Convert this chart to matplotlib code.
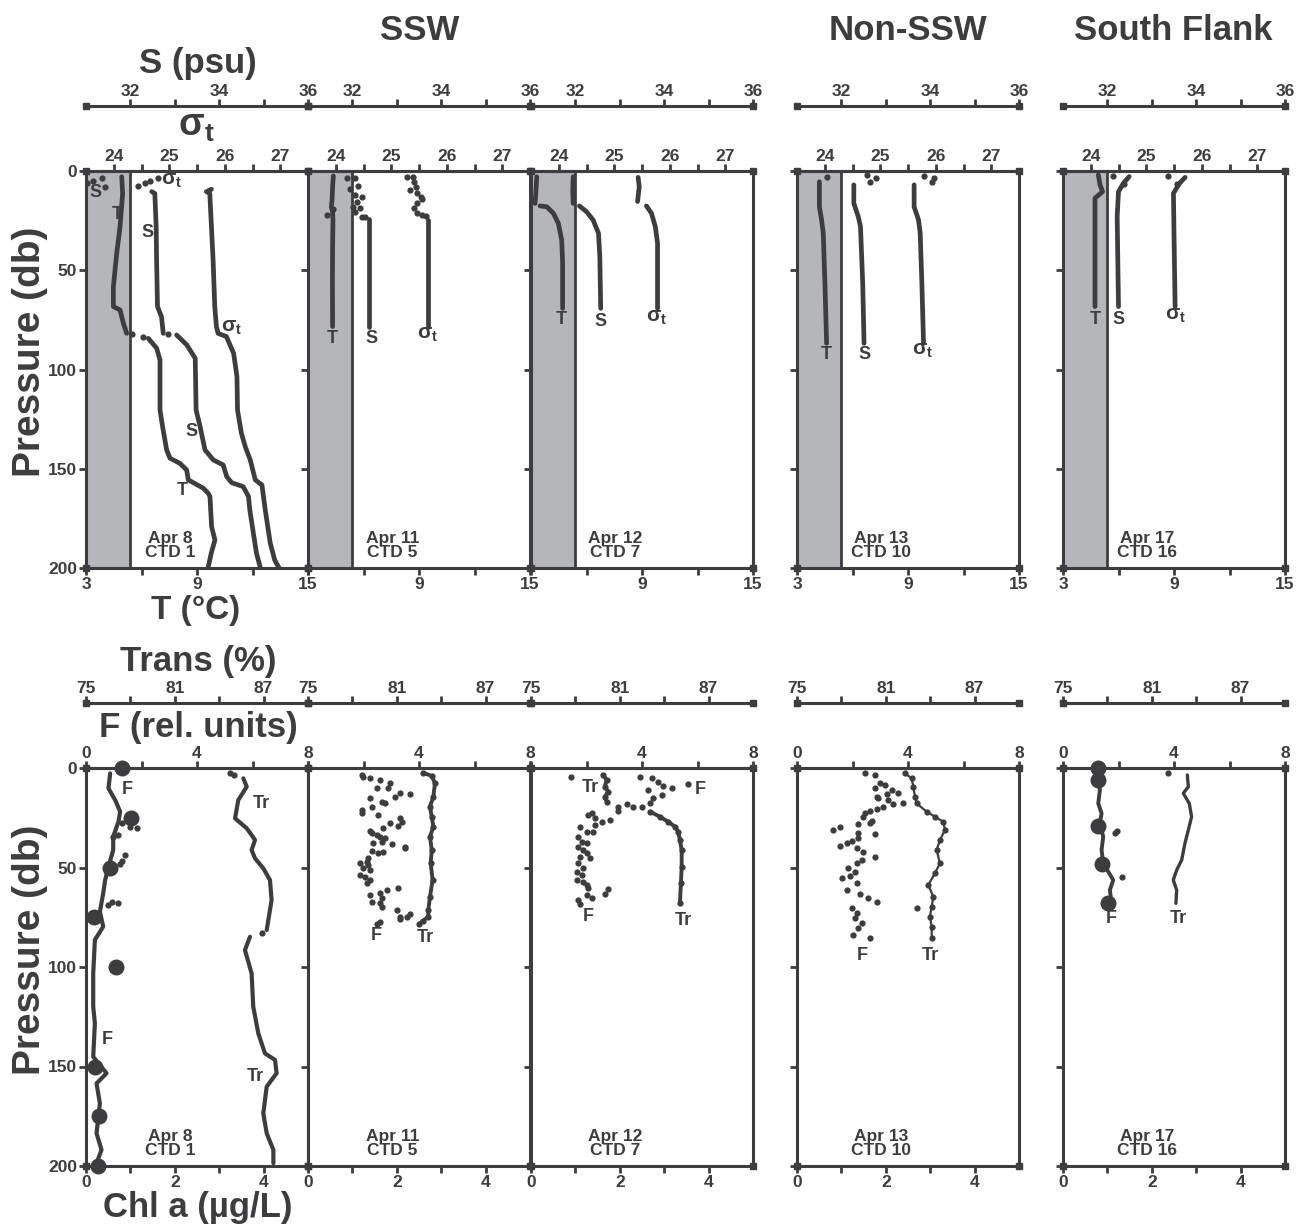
import matplotlib
matplotlib.use("Agg")
import matplotlib.pyplot as plt
from matplotlib.patches import Rectangle
from matplotlib.transforms import offset_copy

plt.rcParams['font.family'] = ['Liberation Sans', 'DejaVu Sans']
plt.rcParams['font.weight'] = 'bold'
plt.rcParams['mathtext.fontset'] = 'custom'
plt.rcParams['mathtext.rm'] = 'Liberation Sans'
plt.rcParams['mathtext.it'] = 'Liberation Sans'

DARK = '#3d3d3f'
SHADE = '#b5b6b9'

# ---------------- labels / ticks ----------------
group_titles = ['SSW', 'Non-SSW', 'South Flank']
panel_dates = ['Apr 8\nCTD 1', 'Apr 11\nCTD 5', 'Apr 12\nCTD 7', 'Apr 13\nCTD 10', 'Apr 17\nCTD 16']
depth_ticks = [0, 50, 100, 150, 200]
T_ticks = [3, 9, 15]
T_minor = [6, 12]
S_ticks = [32, 34, 36]
S_minor = [33, 35]
sig_ticks = [24, 25, 26, 27]
sig_minor = [24.5, 25.5, 26.5]
F_ticks = [0, 4, 8]
F_minor = [2, 6]
Tr_ticks = [75, 81, 87]
Tr_minor = [78, 84]
Chl_ticks = [0, 2, 4]
Chl_minor = [1, 3]

# ---------------- top row data (T degC, S psu, sigma-t vs pressure db) ----------------
# Panel 1: Apr 8, CTD 1
p1_T_depth = [2.9, 11.3, 28.0, 41.5, 58.3, 68.3, 70.0, 76.7, 81.8]
p1_T_value = [4.93, 4.98, 4.84, 4.66, 4.48, 4.48, 4.84, 5.02, 5.20]
p1_Tdot_depth = [82.1, 83.4]
p1_Tdot_value = [5.47, 6.10]
p1_T2_depth = [84.3, 89.3, 95.2, 120.4, 128.8, 140.5, 144.7, 147.3, 150.6, 155.6, 157.0, 159.8, 162.4, 164.0, 179.2, 185.9, 191.8, 199.3]
p1_T2_value = [6.37, 6.82, 7.00, 7.00, 7.14, 7.36, 7.54, 8.08, 8.44, 8.53, 8.80, 9.34, 9.61, 9.70, 9.79, 9.97, 9.79, 9.61]
p1_Sdot_depth = [6.2, 4.9, 3.7, 7.9, 82.1]
p1_Sdot_value = [31.02, 31.15, 31.35, 31.43, 32.85]
p1_S_depth = [10.4, 11.3, 28.0, 44.8, 68.3, 73.4, 81.8]
p1_S_value = [32.48, 32.55, 32.58, 32.59, 32.61, 32.70, 32.74]
p1_S2_depth = [82.6, 87.6, 94.4, 120.4, 128.8, 140.5, 145.6, 148.1, 154.0, 157.0, 159.0, 164.0, 170.8, 182.5, 192.6, 199.3]
p1_S2_value = [33.04, 33.27, 33.46, 33.48, 33.57, 33.68, 33.87, 34.09, 34.17, 34.28, 34.54, 34.66, 34.69, 34.77, 34.84, 34.92]
p1_Gdot_depth = [7.6, 6.2, 4.9, 3.7]
p1_Gdot_value = [24.44, 24.56, 24.65, 24.79]
p1_G_depth = [9.2, 10.4, 11.3, 28.0, 44.8, 68.3, 78.4, 81.8, 83.4, 91.9, 103.6, 120.4, 132.1, 138.9, 145.6, 155.6, 158.2, 170.8, 187.5, 196.0, 200.0]
p1_G_value = [25.76, 25.67, 25.73, 25.76, 25.79, 25.82, 25.85, 25.88, 26.03, 26.16, 26.22, 26.23, 26.30, 26.37, 26.46, 26.55, 26.67, 26.73, 26.82, 26.90, 26.98]

# Panel 2: Apr 11, CTD 5
p2_T_depth = [2.5, 7.9, 14.6, 18.0, 20.5, 24.7, 38.1, 54.9, 78.4]
p2_T_value = [4.37, 4.33, 4.30, 4.26, 4.33, 4.35, 4.33, 4.32, 4.33]
p2_Tdot_depth = [22.2, 19.0]
p2_Tdot_value = [4.01, 4.35]
p2_Sdot_depth = [3.4, 3.7, 7.5, 9.2, 12.1, 13.3, 15.4, 18.0, 18.8, 20.5, 23.0, 23.0]
p2_Sdot_value = [31.87, 32.06, 32.13, 31.95, 32.06, 32.21, 32.10, 32.02, 32.16, 32.06, 32.21, 32.28]
p2_S_depth = [24.3, 40.0, 60.0, 78.4]
p2_S_value = [32.38, 32.38, 32.38, 32.38]
p2_Gdot_depth = [3.2, 2.8, 5.4, 7.9, 9.6, 10.9, 12.9, 14.3, 16.0, 18.8, 21.0, 22.2, 22.7]
p2_Gdot_value = [25.28, 25.39, 25.41, 25.45, 25.34, 25.46, 25.53, 25.55, 25.46, 25.41, 25.46, 25.55, 25.63]
p2_G_depth = [24.7, 50.0, 78.4]
p2_G_value = [25.67, 25.67, 25.67]

# Panel 3: Apr 12, CTD 7
p3_T_depth = [2.9, 9.6, 16.3]
p3_T_value = [3.31, 3.27, 3.22]
p3_T2_depth = [17.6, 18.0, 21.3, 26.4, 34.8, 46.5, 69.2]
p3_T2_value = [3.49, 3.85, 4.21, 4.48, 4.66, 4.71, 4.71]
p3_S_depth = [2.9, 9.6, 16.3]
p3_S_value = [31.95, 31.94, 31.95]
p3_S2_depth = [17.6, 20.5, 24.7, 31.4, 43.1, 69.2]
p3_S2_value = [32.09, 32.25, 32.40, 32.52, 32.55, 32.57]
p3_G_depth = [3.2, 7.9, 15.4]
p3_G_value = [25.43, 25.45, 25.42]
p3_G2_depth = [17.6, 21.3, 28.0, 36.4, 69.2]
p3_G2_value = [25.58, 25.67, 25.74, 25.78, 25.78]

# Panel 4: Apr 13, CTD 10
p4_Tdot_depth = [3.2]
p4_Tdot_value = [4.60]
p4_T_depth = [5.4, 18.0, 24.7, 31.4, 56.6, 86.8]
p4_T_value = [4.21, 4.21, 4.33, 4.42, 4.51, 4.60]
p4_Sdot_depth = [2.0, 5.4, 3.3]
p4_Sdot_value = [32.57, 32.64, 32.78]
p4_S_depth = [7.0, 16.3, 23.0, 28.0, 56.6, 86.8]
p4_S_value = [32.28, 32.28, 32.38, 32.43, 32.48, 32.51]
p4_Gdot_depth = [2.3, 5.4, 3.7]
p4_Gdot_value = [25.79, 25.93, 25.97]
p4_G_depth = [7.0, 18.0, 24.7, 31.4, 56.6, 86.8]
p4_G_value = [25.61, 25.61, 25.69, 25.72, 25.75, 25.78]

# Panel 5: Apr 17, CTD 16
p5_T_depth = [2.0, 7.0, 10.4, 13.7, 31.4, 68.3]
p5_T_value = [4.91, 5.00, 5.14, 4.73, 4.73, 4.73]
p5_Sdot_depth = [2.3, 6.5]
p5_Sdot_value = [32.12, 32.38]
p5_S_depth = [2.8, 6.2, 10.4, 23.0, 68.3]
p5_S_value = [32.49, 32.36, 32.25, 32.22, 32.25]
p5_Gdot_depth = [2.3, 6.5]
p5_Gdot_value = [25.39, 25.55]
p5_G_depth = [3.2, 6.2, 11.2, 31.4, 68.3]
p5_G_value = [25.70, 25.60, 25.49, 25.50, 25.52]

# ---------------- bottom row data (F rel. units, Trans %, Chl a ug/L vs pressure db) ----------------
b1_F_depth = [2.7, 10.2, 16.1, 21.9, 27.0, 34.5, 41.2, 49.6, 56.3, 63.0, 72.2, 79.7, 86.4, 103.2, 119.9, 128.3, 145.1, 153.4, 158.5, 168.5, 183.6, 191.9, 198.6]
b1_F_value = [0.87, 0.81, 1.05, 1.23, 1.17, 0.98, 0.98, 0.81, 0.69, 0.62, 0.50, 0.62, 0.32, 0.26, 0.26, 0.32, 0.26, 0.74, 0.38, 0.50, 0.38, 0.56, 0.38]
b1_Fdot_depth = [30.3, 29.8, 27.8, 33.7, 34.8, 43.7, 46.6, 48.2, 67.2, 67.7, 68.8]
b1_Fdot_value = [1.83, 1.59, 1.29, 1.17, 0.98, 1.41, 1.29, 1.23, 0.93, 1.17, 0.81]
b1_Tr_depth = [5.2, 9.4, 16.1, 25.3, 30.3, 33.7, 36.2, 41.2, 45.4, 50.4, 56.3, 66.3, 76.4, 81.4]
b1_Tr_value = [85.63, 85.86, 85.29, 85.07, 85.86, 86.19, 86.42, 86.19, 86.42, 86.98, 87.43, 87.54, 87.32, 87.21]
b1_Tr2_depth = [84.8, 91.5, 103.2, 119.9, 133.3, 143.4, 146.7, 153.4, 160.1, 173.5, 183.6, 191.9, 198.6]
b1_Tr2_value = [86.08, 85.74, 86.19, 86.30, 86.64, 87.09, 87.77, 87.88, 87.21, 86.98, 87.21, 87.66, 87.66]
b1_Trdot_depth = [2.7, 3.5, 82.7]
b1_Trdot_value = [84.73, 85.00, 86.87]
b1_Chl_depth = [0, 25, 50, 75, 100, 150, 175, 200]
b1_Chl_value = [0.80, 1.01, 0.53, 0.17, 0.68, 0.20, 0.30, 0.26]

b2_F_depth = [3.5, 4.3, 5.2, 6.0, 7.7, 10.2, 10.2, 12.7, 13.1, 14.4, 15.2, 16.9, 17.8, 19.4, 21.1, 22.4, 23.6, 25.3, 27.0, 27.8,
              29.1, 30.3, 31.5, 32.5, 33.7, 34.8, 35.3, 37.5, 37.0, 38.2, 39.5, 40.4, 41.5, 42.0, 42.9, 45.4, 47.1, 47.6, 48.7, 50.4,
              51.3, 53.8, 54.6, 56.3, 58.0, 61.3, 60.5, 63.0, 63.8, 65.5, 68.0, 67.2, 69.7, 71.4, 73.4, 74.7, 75.0, 76.0, 77.2, 78.4]
b2_F_value = [1.93, 1.99, 2.23, 2.59, 2.95, 2.47, 2.89, 3.31, 3.67, 3.13, 2.23, 2.65, 2.77, 2.29, 1.93, 1.93, 2.53, 3.31, 3.37, 2.95,
              3.25, 2.71, 2.23, 2.29, 2.47, 2.59, 2.77, 2.35, 2.65, 3.01, 3.49, 3.49, 2.29, 2.71, 2.53, 2.17, 2.11, 1.87, 2.17, 1.99,
              2.23, 1.87, 2.05, 2.23, 2.11, 2.83, 3.25, 2.59, 2.23, 2.65, 2.59, 2.29, 2.65, 3.19, 3.67, 3.31, 3.55, 3.31, 2.59, 2.47]
b2_Tr_depth = [2.4, 4.0, 7.7, 14.4, 19.4, 24.5, 29.5, 34.5, 41.2, 47.9, 56.3, 64.7, 71.4, 74.7, 76.7, 78.4]
b2_Tr_value = [82.79, 83.36, 83.58, 83.47, 83.24, 83.36, 83.47, 83.24, 83.36, 83.29, 83.42, 83.24, 83.13, 83.13, 82.79, 82.52]

b3_F_depth = [8.2, 10.2, 9.0, 6.9, 5.2, 4.3, 11.0, 13.6, 15.2, 17.4, 19.4, 19.4, 18.1, 19.4, 21.4, 26.1, 27.0, 25.3, 22.8, 23.6,
              28.6, 32.0, 32.0, 29.5, 34.5, 37.0, 37.8, 39.5, 41.2, 45.4, 42.9, 44.6, 47.9, 50.4, 52.1, 53.8, 56.3, 57.1, 58.8, 60.5,
              61.0, 63.3, 63.8, 65.5, 66.3, 68.3, 4.3]
b3_F_value = [5.67, 5.07, 4.77, 4.59, 4.35, 3.93, 4.23, 4.71, 4.41, 4.29, 3.99, 3.69, 3.45, 3.15, 3.15, 2.85, 2.55, 2.31, 2.19, 2.07,
              2.31, 2.25, 2.01, 1.77, 1.71, 1.83, 2.01, 1.71, 1.89, 2.13, 2.01, 1.77, 1.71, 1.89, 1.65, 1.83, 1.65, 1.89, 2.01, 2.07,
              2.79, 2.67, 2.01, 2.19, 1.71, 1.77, 1.43]
b3_Tr_depth = [3.5, 6.0, 9.4, 11.9, 14.4, 16.9]
b3_Tr_value = [79.88, 80.11, 79.99, 80.22, 79.99, 80.11]
b3_Tr2_depth = [21.9, 24.5, 27.0, 29.5, 32.0, 36.2, 41.2, 49.6, 58.0, 68.0]
b3_Tr2_value = [83.04, 83.71, 84.27, 84.73, 84.95, 85.06, 85.18, 85.18, 85.13, 85.06]

b4_F_depth = [2.7, 3.5, 7.7, 8.5, 10.2, 11.0, 13.1, 12.7, 14.4, 15.2, 16.1, 18.3, 17.4, 19.4, 20.4, 21.4, 22.4, 24.5, 26.5, 27.5,
              28.1, 29.5, 31.1, 32.5, 33.2, 35.3, 36.5, 37.5, 39.2, 40.4, 42.0, 44.6, 46.2, 47.9, 50.4, 52.1, 55.4, 54.3, 58.0, 61.3,
              63.5, 65.5, 67.2, 70.5, 73.0, 75.5, 78.1, 80.6, 83.9, 85.6]
b4_F_value = [2.45, 2.81, 2.99, 3.17, 2.81, 3.41, 3.23, 3.65, 2.87, 2.93, 3.29, 3.47, 3.83, 3.11, 2.87, 2.63, 2.45, 2.39, 2.69, 2.63,
              2.21, 1.55, 1.31, 2.21, 2.81, 2.21, 1.97, 1.79, 1.55, 2.15, 2.39, 2.81, 2.33, 2.15, 1.85, 2.09, 1.61, 1.91, 2.15, 1.79,
              2.27, 2.57, 2.87, 1.97, 2.15, 2.09, 2.33, 2.21, 2.03, 2.63]
b4_Tr_depth = [2.7, 5.2, 9.4, 14.4, 17.8, 21.9, 24.5, 27.0, 31.1, 36.2, 41.2, 47.9, 52.9, 58.8, 64.7, 69.7, 74.7, 79.7, 85.6]
b4_Tr_value = [82.30, 82.75, 82.86, 82.97, 83.08, 83.76, 84.32, 84.88, 85.00, 84.66, 84.43, 84.66, 84.32, 83.87, 84.21, 84.10, 83.98, 84.10, 84.10]
b4_Trdot_depth = [70.5]
b4_Trdot_value = [83.1]

b5_F_depth = [4.3, 11.0, 17.8, 22.8, 27.8, 34.5, 41.2, 47.9, 56.3, 61.3, 68.0]
b5_F_value = [1.27, 1.33, 1.27, 1.39, 1.33, 1.45, 1.39, 1.45, 1.81, 1.69, 1.75]
b5_Fdot_depth = [32.8, 31.8, 54.6]
b5_Fdot_value = [1.87, 1.93, 2.11]
b5_Tr_depth = [3.5, 9.4, 12.7, 17.8, 24.5, 31.1, 37.8, 46.2, 51.3, 56.3, 61.3, 68.0]
b5_Tr_value = [83.40, 83.47, 83.13, 83.53, 83.69, 83.47, 83.24, 83.02, 82.68, 82.45, 82.68, 82.63]
b5_Trdot_depth = [2.7]
b5_Trdot_value = [82.12]
b5_Chl_depth = [0, 6, 29, 48, 68]
b5_Chl_value = [0.79, 0.79, 0.79, 0.88, 1.01]

# ---------------- layout ----------------
W, H = 1298, 1224
fig = plt.figure(figsize=(W / 100, H / 100), dpi=100)
col_left = [86, 308, 531, 797, 1063]
col_w = 222
top_y0, top_y1 = 171, 568
bot_y0, bot_y1 = 768, 1166
shade_frac = 0.2
outward_pt = 65 * 72 / 100.0

LW_SPINE = 2.2
TICK_KW = dict(direction='out', length=5, width=2, colors=DARK, labelsize=12.5, labelcolor=DARK)
LABEL_SIZE = 13
PROF_LW = 3.4


def fig_rect(x0, y0, y1):
    return [x0 / W, 1 - y1 / H, col_w / W, (y1 - y0) / H]


def style_spines(a, keep):
    for name, sp in a.spines.items():
        if name in keep:
            sp.set_color(DARK)
            sp.set_linewidth(LW_SPINE)
        else:
            sp.set_visible(False)


def caps(a, y, off_px):
    tr = offset_copy(a.transAxes, fig=fig, x=0, y=off_px, units='dots')
    a.plot([0, 1], [y, y], ls='none', marker='s', ms=4.2, color=DARK, transform=tr, clip_on=False, zorder=10)


def line(a, x, d, lw=PROF_LW):
    a.plot(x, d, color=DARK, lw=lw, solid_capstyle='round', solid_joinstyle='round', zorder=3)


def dots(a, x, d, ms=4.5):
    a.plot(x, d, ls='none', marker='o', ms=ms, color=DARK, mec='none', zorder=3)


def sig_text(a, x, y, size=15):
    a.text(x, y, 'σ$_{\\rm t}$', transform=a.transAxes, fontsize=size, color=DARK,
           ha='center', va='center', fontweight='bold')


def txt(a, x, y, s, size=LABEL_SIZE):
    a.text(x, y, s, transform=a.transAxes, fontsize=size, color=DARK, ha='center', va='center')


def base_panel(idx, y0, y1, xlim, xt, xminor, xlabels):
    ax = fig.add_axes(fig_rect(col_left[idx], y0, y1))
    ax.set_xlim(*xlim)
    ax.set_ylim(200, 0)
    style_spines(ax, ['left', 'right', 'bottom', 'top'])
    ax.xaxis.set_ticks_position('bottom')
    ax.set_xticks(xt)
    ax.set_xticks(xminor, minor=True)
    ax.set_xticklabels(xlabels)
    ax.tick_params(axis='x', which='both', pad=1.5, **TICK_KW)
    ax.yaxis.set_ticks_position('left')
    ax.set_yticks(depth_ticks)
    if idx != 0:
        ax.set_yticklabels([])
    ax.tick_params(axis='y', which='both', pad=1.5, **TICK_KW)
    caps(ax, 0, 0)
    ax.text(0.38, 0.02, panel_dates[idx], transform=ax.transAxes, ha='center', va='bottom',
            fontsize=12.5, color=DARK, linespacing=0.92)
    return ax


def twin(ax, xlim, xt, xminor, xlabels, outward):
    t = ax.twiny()
    t.set_xlim(*xlim)
    style_spines(t, ['top'])
    if outward:
        t.spines['top'].set_position(('outward', outward_pt))
    t.set_xticks(xt)
    t.set_xticks(xminor, minor=True)
    t.set_xticklabels(xlabels)
    t.tick_params(axis='x', which='both', pad=0.3, **TICK_KW)
    caps(t, 1, 65 if outward else 0)
    return t


top_axes = []
for i in range(5):
    tl = ['', '9', '15'] if i in (1, 2) else ['3', '9', '15']
    ax = base_panel(i, top_y0, top_y1, (3, 15), T_ticks, T_minor, tl)
    ax.add_patch(Rectangle((0, 0), shade_frac, 1, transform=ax.transAxes, fc=SHADE, ec=DARK, lw=2, zorder=0.5))
    axG = twin(ax, (23.5, 27.5), sig_ticks, sig_minor, [str(v) for v in sig_ticks], False)
    axS = twin(ax, (31, 36), S_ticks, S_minor, [str(v) for v in S_ticks], True)
    top_axes.append((ax, axG, axS))

bot_axes = []
for i in range(5):
    fl = ['', '4', '8'] if i in (1, 2) else ['0', '4', '8']
    ax = base_panel(i, bot_y0, bot_y1, (0, 5), Chl_ticks, Chl_minor, [str(v) for v in Chl_ticks])
    axF = twin(ax, (0, 8), F_ticks, F_minor, fl, False)
    axTr = twin(ax, (75, 90), Tr_ticks, Tr_minor, [str(v) for v in Tr_ticks], True)
    bot_axes.append((ax, axF, axTr))

# ---------------- top row drawing ----------------
ax, axG, axS = top_axes[0]
line(ax, p1_T_value, p1_T_depth); dots(ax, p1_Tdot_value, p1_Tdot_depth); line(ax, p1_T2_value, p1_T2_depth)
dots(axS, p1_Sdot_value, p1_Sdot_depth); line(axS, p1_S_value, p1_S_depth); line(axS, p1_S2_value, p1_S2_depth)
dots(axG, p1_Gdot_value, p1_Gdot_depth); line(axG, p1_G_value, p1_G_depth)
txt(ax, 0.045, 0.945, 'S'); txt(ax, 0.14, 0.89, 'T'); txt(ax, 0.275, 0.846, 'S')
sig_text(ax, 0.385, 0.975); sig_text(ax, 0.655, 0.605)
txt(ax, 0.477, 0.343, 'S'); txt(ax, 0.432, 0.196, 'T')

ax, axG, axS = top_axes[1]
line(ax, p2_T_value, p2_T_depth); dots(ax, p2_Tdot_value, p2_Tdot_depth)
dots(axS, p2_Sdot_value, p2_Sdot_depth); line(axS, p2_S_value, p2_S_depth)
dots(axG, p2_Gdot_value, p2_Gdot_depth); line(axG, p2_G_value, p2_G_depth)
txt(ax, 0.111, 0.579, 'T'); txt(ax, 0.284, 0.577, 'S'); sig_text(ax, 0.54, 0.587)

ax, axG, axS = top_axes[2]
line(ax, p3_T_value, p3_T_depth); line(ax, p3_T2_value, p3_T2_depth)
line(axS, p3_S_value, p3_S_depth); line(axS, p3_S2_value, p3_S2_depth)
line(axG, p3_G_value, p3_G_depth); line(axG, p3_G2_value, p3_G2_depth)
txt(ax, 0.138, 0.625, 'T'); txt(ax, 0.314, 0.622, 'S'); sig_text(ax, 0.566, 0.632)

ax, axG, axS = top_axes[3]
dots(ax, p4_Tdot_value, p4_Tdot_depth); line(ax, p4_T_value, p4_T_depth)
dots(axS, p4_Sdot_value, p4_Sdot_depth); line(axS, p4_S_value, p4_S_depth)
dots(axG, p4_Gdot_value, p4_Gdot_depth); line(axG, p4_G_value, p4_G_depth)
txt(ax, 0.134, 0.537, 'T'); txt(ax, 0.302, 0.537, 'S'); sig_text(ax, 0.566, 0.549)

ax, axG, axS = top_axes[4]
line(ax, p5_T_value, p5_T_depth)
dots(axS, p5_Sdot_value, p5_Sdot_depth); line(axS, p5_S_value, p5_S_depth)
dots(axG, p5_Gdot_value, p5_Gdot_depth); line(axG, p5_G_value, p5_G_depth)
txt(ax, 0.144, 0.625, 'T'); txt(ax, 0.249, 0.625, 'S'); sig_text(ax, 0.505, 0.637)

# ---------------- bottom row drawing ----------------
BIG = 11.5
ax, axF, axTr = bot_axes[0]
line(axF, b1_F_value, b1_F_depth, lw=3.0); dots(axF, b1_Fdot_value, b1_Fdot_depth)
line(axTr, b1_Tr_value, b1_Tr_depth, lw=3.0); line(axTr, b1_Tr2_value, b1_Tr2_depth, lw=3.0)
dots(axTr, b1_Trdot_value, b1_Trdot_depth)
ax.plot(b1_Chl_value, b1_Chl_depth, ls='none', marker='o', ms=BIG, color=DARK, mec='none', zorder=4, clip_on=False)
txt(ax, 0.185, 0.947, 'F'); txt(ax, 0.788, 0.912, 'Tr')
txt(ax, 0.095, 0.317, 'F'); txt(ax, 0.761, 0.224, 'Tr')

ax, axF, axTr = bot_axes[1]
dots(axF, b2_F_value, b2_F_depth)
line(axTr, b2_Tr_value, b2_Tr_depth, lw=2.8); dots(axTr, b2_Tr_value, b2_Tr_depth)
txt(ax, 0.306, 0.580, 'F'); txt(ax, 0.527, 0.575, 'Tr')

ax, axF, axTr = bot_axes[2]
dots(axF, b3_F_value, b3_F_depth)
line(axTr, b3_Tr_value, b3_Tr_depth, lw=2.8); dots(axTr, b3_Tr_value, b3_Tr_depth)
line(axTr, b3_Tr2_value, b3_Tr2_depth, lw=2.8); dots(axTr, b3_Tr2_value, b3_Tr2_depth)
txt(ax, 0.266, 0.95, 'Tr'); txt(ax, 0.761, 0.947, 'F')
txt(ax, 0.257, 0.628, 'F'); txt(ax, 0.685, 0.618, 'Tr')

ax, axF, axTr = bot_axes[3]
dots(axF, b4_F_value, b4_F_depth)
line(axTr, b4_Tr_value, b4_Tr_depth, lw=1.6); dots(axTr, b4_Tr_value, b4_Tr_depth)
dots(axTr, b4_Trdot_value, b4_Trdot_depth)
txt(ax, 0.293, 0.530, 'F'); txt(ax, 0.599, 0.530, 'Tr')

ax, axF, axTr = bot_axes[4]
line(axF, b5_F_value, b5_F_depth, lw=2.8); dots(axF, b5_Fdot_value, b5_Fdot_depth)
line(axTr, b5_Tr_value, b5_Tr_depth, lw=2.4); dots(axTr, b5_Trdot_value, b5_Trdot_depth)
ax.plot(b5_Chl_value, b5_Chl_depth, ls='none', marker='o', ms=BIG, color=DARK, mec='none', zorder=4, clip_on=False)
txt(ax, 0.216, 0.621, 'F'); txt(ax, 0.518, 0.621, 'Tr')

# ---------------- figure text ----------------
def ftext(x, y, s, size, **kw):
    fig.text(x / W, 1 - y / H, s, fontsize=size, color=DARK, ha='center', va='center', **kw)

ftext(420, 30, group_titles[0], 25)
ftext(908, 30, group_titles[1], 25)
ftext(1173, 30, group_titles[2], 25)
ftext(198, 63, 'S (psu)', 25)
ftext(196, 126, 'σ$_{\\rm t}$', 27)
ftext(196, 611, 'T (°C)', 24)
ftext(198, 662, 'Trans (%)', 25)
ftext(198, 727, 'F (rel. units)', 25)
ftext(198, 1207, 'Chl a (µg/L)', 25)
ftext(30, 352, 'Pressure (db)', 28, rotation=90)
ftext(30, 950, 'Pressure (db)', 28, rotation=90)

fig.savefig('out.png', dpi=100)
